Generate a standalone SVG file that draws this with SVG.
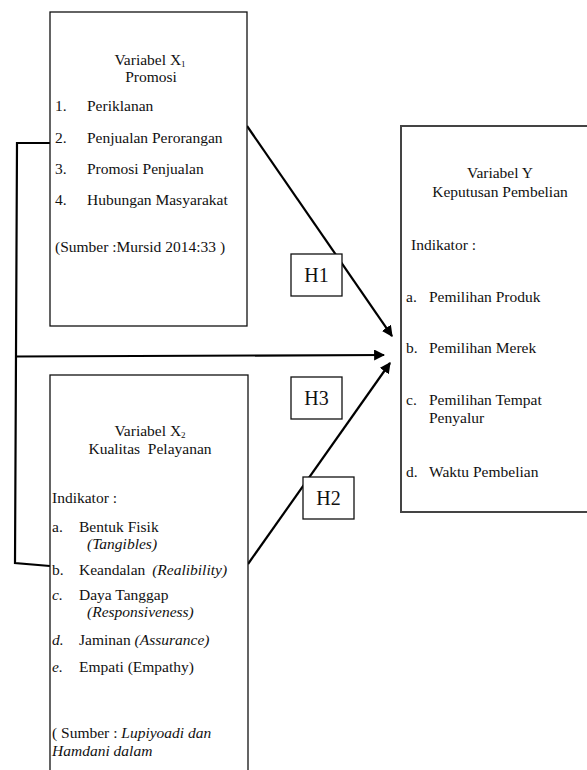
<svg xmlns="http://www.w3.org/2000/svg" width="587" height="770" viewBox="0 0 587 770">
<style>
text{font-family:"Liberation Serif","Times New Roman",serif;font-size:15.5px;fill:#111}
.i{font-style:italic}
.box{fill:#fff;stroke:#111;stroke-width:1.3}
.ybox{fill:#fff;stroke:#444;stroke-width:2}
.hb{fill:#fff;stroke:#111;stroke-width:1.3}
.h{font-size:20px}
.c{text-anchor:middle}
.ln{fill:none;stroke:#000;stroke-width:2.2}
</style>
<defs>
<marker id="ah" viewBox="0 0 10 10" refX="9" refY="5" markerWidth="5" markerHeight="5" orient="auto" markerUnits="strokeWidth">
<path d="M0,0 L10,5 L0,10 z" fill="#000"/>
</marker>
</defs>
<g id="connectors">
<polyline class="ln" points="50,143 17,143 15,563 50,566"/>
<line class="ln" x1="16" y1="356.5" x2="384" y2="355" marker-end="url(#ah)"/>
<line class="ln" x1="247" y1="126" x2="392" y2="336" marker-end="url(#ah)"/>
<line class="ln" x1="248" y1="564" x2="390" y2="363" marker-end="url(#ah)"/>
</g>
<g id="x1">
<rect class="box" x="50" y="12" width="197" height="314"/>
<text class="c" x="150" y="65">Variabel X<tspan font-size="9" dy="1.5">1</tspan></text>
<text class="c" x="151" y="82">Promosi</text>
<text x="55" y="111">1.</text><text x="87" y="111">Periklanan</text>
<text x="55" y="143">2.</text><text x="87" y="143">Penjualan Perorangan</text>
<text x="55" y="174">3.</text><text x="87" y="174">Promosi Penjualan</text>
<text x="55" y="205">4.</text><text x="87" y="205">Hubungan Masyarakat</text>
<text x="55" y="252">(Sumber :Mursid 2014:33 )</text>
</g>
<g id="x2">
<rect class="box" x="50" y="375" width="198" height="400"/>
<text class="c" x="150" y="436">Variabel X<tspan font-size="9" dy="1.5">2</tspan></text>
<text class="c" x="150" y="454" xml:space="preserve">Kualitas  Pelayanan</text>
<text x="52" y="503">Indikator :</text>
<text x="52" y="532">a.</text><text x="79" y="532">Bentuk Fisik</text>
<text class="i" x="87" y="549">(Tangibles)</text>
<text x="52" y="575">b.</text><text x="79" y="575">Keandalan <tspan class="i" dx="3">(Realibility)</tspan></text>
<text class="i" x="52" y="600">c.</text><text x="79" y="600">Daya Tanggap</text>
<text class="i" x="87" y="617">(Responsiveness)</text>
<text class="i" x="52" y="645">d.</text><text x="79" y="645">Jaminan <tspan class="i">(Assurance)</tspan></text>
<text class="i" x="52" y="672">e.</text><text x="79" y="672">Empati (Empathy)</text>
<text x="52" y="738">( Sumber : <tspan class="i">Lupiyoadi dan</tspan></text>
<text class="i" x="52" y="756">Hamdani dalam</text>
</g>
<g id="y">
<rect class="ybox" x="401" y="126" width="200" height="386"/>
<text class="c" x="500" y="178">Variabel Y</text>
<text class="c" x="500" y="197">Keputusan Pembelian</text>
<text x="411" y="250">Indikator :</text>
<text x="406" y="302">a.</text><text x="429" y="302">Pemilihan Produk</text>
<text x="406" y="353">b.</text><text x="429" y="353">Pemilihan Merek</text>
<text x="406" y="405">c.</text><text x="429" y="405">Pemilihan Tempat</text>
<text x="429" y="423">Penyalur</text>
<text x="406" y="477">d.</text><text x="429" y="477">Waktu Pembelian</text>
</g>
<g id="h1"><rect class="hb" x="291" y="254" width="51" height="42"/><text class="h c" x="316.5" y="282">H1</text></g>
<g id="h3"><rect class="hb" x="291" y="377" width="51" height="42"/><text class="h c" x="316.5" y="405">H3</text></g>
<g id="h2"><rect class="hb" x="303" y="477" width="51" height="42"/><text class="h c" x="328.5" y="505">H2</text></g>
</svg>
